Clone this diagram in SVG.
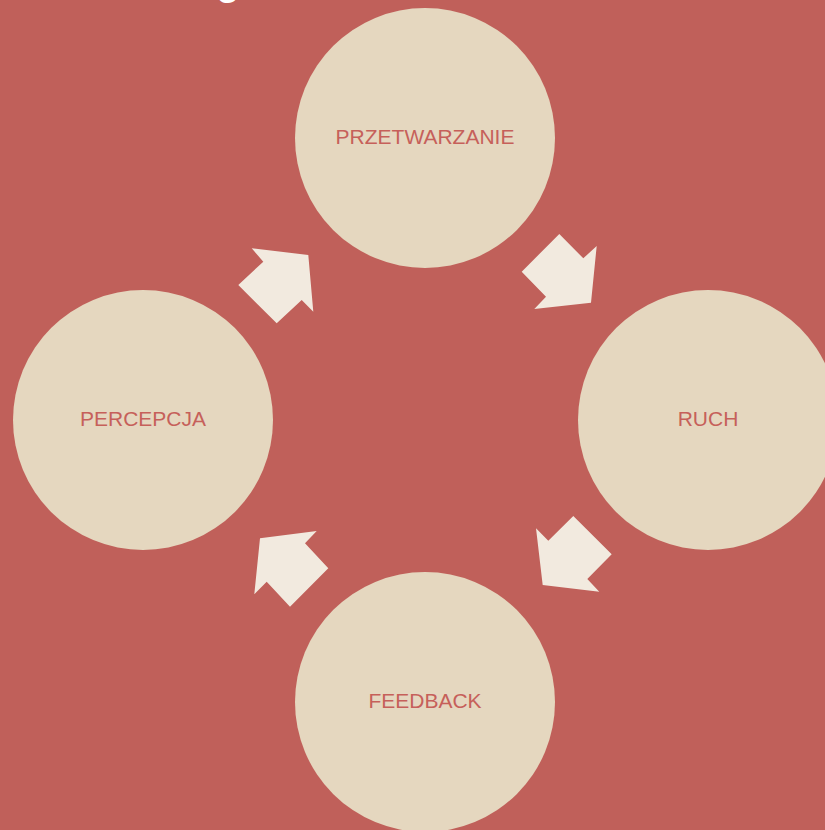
<svg xmlns="http://www.w3.org/2000/svg" width="825" height="830" viewBox="0 0 825 830">
<style>
.node circle{fill:#E5D7BF}
.node text{fill:#C6605A;font-family:"Liberation Sans",Arial,sans-serif;font-size:21px;text-anchor:middle}
.arrow{fill:#F2EADF}
</style>
<rect x="0" y="0" width="825" height="830" fill="#C0605A"/>
<text x="228" y="-6" fill="#FFFFFF" font-family="Liberation Sans, Arial, sans-serif" font-size="44" text-anchor="middle">g</text>
<g id="przetwarzanie" class="node"><circle cx="425" cy="138" r="130"/><text x="425" y="144">PRZETWARZANIE</text></g>
<g id="ruch" class="node"><circle cx="708" cy="420" r="130"/><text x="708" y="426">RUCH</text></g>
<g id="feedback" class="node"><circle cx="425" cy="702" r="130"/><text x="425" y="708">FEEDBACK</text></g>
<g id="percepcja" class="node"><circle cx="143" cy="420" r="130"/><text x="143" y="426">PERCEPCJA</text></g>
<g id="connectors">
<polygon class="arrow" points="251.7,248.3 308.3,255 313.3,311.7 301.7,300 276.7,323.3 238.3,285 263.3,261.7"/>
<polygon class="arrow" points="559.3,234 583.3,258.3 596.7,246 591,302.7 534.3,309 546,296.7 521.7,271.7"/>
<polygon class="arrow" points="573.3,516 611.7,554.3 587.3,579 599.3,591.7 542.7,585 536,528.3 548.3,540.7"/>
<polygon class="arrow" points="316.7,531 305,543.3 328.3,568.3 290,606.7 266.7,581.7 254.3,594.3 260,538.3"/>
</g>
</svg>
